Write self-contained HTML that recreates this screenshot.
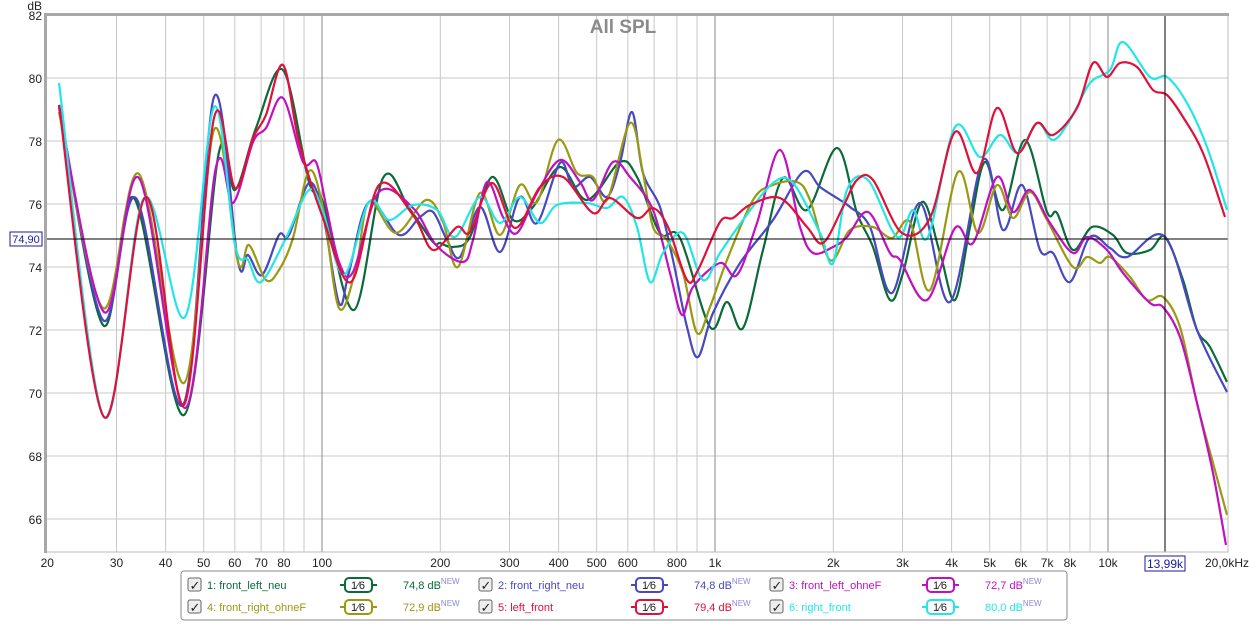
<!DOCTYPE html>
<html><head><meta charset="utf-8"><style>
body{margin:0;background:#fff;width:1249px;height:622px;overflow:hidden;font-family:"Liberation Sans",sans-serif}
svg text{font-family:"Liberation Sans",sans-serif}
</style></head><body>
<svg id="s" width="1249" height="622" xmlns="http://www.w3.org/2000/svg">
<rect x="0" y="0" width="1249" height="622" fill="#fff"/>
<g id="grid"></g>
<text x="623" y="33" text-anchor="middle" font-size="19" font-weight="bold" fill="#8a8a8a">All SPL</text>
<g id="curves" fill="none" stroke-width="2.2" stroke-linejoin="round"></g>
<line x1="46" y1="239" x2="1228" y2="239" stroke="#000" stroke-width="1"/>
<line x1="1165" y1="15" x2="1165" y2="552" stroke="#000" stroke-width="1"/>
<rect x="46" y="15" width="1182" height="537" fill="none" stroke="#bbb" stroke-width="1"/>
<path d="M45.5 553 V14.5 H1229" fill="none" stroke="#a8a8a8" stroke-width="3"/>
<rect x="10" y="232" width="32" height="14" fill="#fff" stroke="#1a1aa0"/>
<text x="26" y="243" text-anchor="middle" font-size="11" fill="#1a1aa0">74,90</text>
<rect x="1145" y="556" width="40" height="15" fill="#fff" stroke="#1a1aa0"/>
<text x="1165" y="568" text-anchor="middle" font-size="12" fill="#1a1aa0">13,99k</text>
<g id="labels" font-size="12" fill="#222"></g>
<rect x="181" y="571" width="886" height="49" rx="3" fill="#fff" stroke="#888"/>
<g id="legend" font-size="11"></g>
</svg>
<script>
const NS="http://www.w3.org/2000/svg";
function el(t,a,p,txt){const e=document.createElementNS(NS,t);for(const k in a)e.setAttribute(k,a[k]);if(txt!==undefined)e.textContent=txt;p.appendChild(e);return e;}
const g=document.getElementById('grid'),lb=document.getElementById('labels');
const fx=f=>322+(Math.log10(f)-2)*393;
// horizontal grid
for(let d=82;d>=66;d-=2){const y=15+(82-d)*31.5;el('line',{x1:46,x2:1228,y1:y,y2:y,stroke:'#c8c8c8'},g);el('text',{x:42,y:y+5,'text-anchor':'end'},lb,d);}
el('text',{x:42,y:10,'text-anchor':'end'},lb,'dB');
const fs=[30,40,50,60,70,80,90,100,200,300,400,500,600,700,800,900,1000,2000,3000,4000,5000,6000,7000,8000,9000,10000];
fs.forEach(f=>{const x=fx(f);const dark=(f==100||f==1000||f==10000);el('line',{x1:x,x2:x,y1:15,y2:552,stroke:dark?'#888':'#c8c8c8'},g);});
const lab=[[20,'20'],[30,'30'],[40,'40'],[50,'50'],[60,'60'],[70,'70'],[80,'80'],[100,'100'],[200,'200'],[300,'300'],[400,'400'],[500,'500'],[600,'600'],[800,'800'],[1000,'1k'],[2000,'2k'],[3000,'3k'],[4000,'4k'],[5000,'5k'],[6000,'6k'],[7000,'7k'],[8000,'8k'],[10000,'10k']];
lab.forEach(([f,t])=>el('text',{x:fx(f),y:567,'text-anchor':'middle'},lb,t));
el('text',{x:1227,y:567,'text-anchor':'middle'},lb,'20,0kHz');
function path(pts){let d='M'+pts[0][0]+' '+pts[0][1];for(let i=0;i<pts.length-1;i++){const p0=pts[Math.max(0,i-1)],p1=pts[i],p2=pts[i+1],p3=pts[Math.min(pts.length-1,i+2)];const c1=[p1[0]+(p2[0]-p0[0])/6,p1[1]+(p2[1]-p0[1])/6],c2=[p2[0]-(p3[0]-p1[0])/6,p2[1]-(p3[1]-p1[1])/6];d+=` C${c1[0].toFixed(1)} ${c1[1].toFixed(1)} ${c2[0].toFixed(1)} ${c2[1].toFixed(1)} ${p2[0]} ${p2[1]}`;}return d;}
const S={
green:[[59,105],[103,325],[134,198],[184,415],[219,152],[235,190],[256,128],[283,70],[309,182],[323,202],[354,310],[383,178],[409,208],[433,242],[440,243],[453,247],[470,237],[492,177],[513,220],[533,207],[560,167],[587,200],[620,162],[637,177],[660,233],[680,238],[710,327],[727,302],[743,328],[763,250],[783,178],[807,210],[837,148],[857,213],[873,247],[890,300],[903,273],[922,202],[940,253],[955,300],[970,227],[985,162],[1003,210],[1025,140],[1047,212],[1057,213],[1073,250],[1092,227],[1113,235],[1127,253],[1150,250],[1165,237],[1183,280],[1197,330],[1210,347],[1227,382]],
blue:[[59,105],[103,320],[136,198],[183,405],[214,97],[238,262],[248,255],[262,275],[279,235],[289,235],[309,183],[323,215],[339,303],[349,272],[369,202],[399,235],[420,217],[433,212],[447,240],[460,257],[480,207],[500,252],[520,197],[537,223],[560,163],[573,187],[590,177],[607,197],[620,163],[632,112],[643,173],[660,207],[673,260],[687,327],[698,357],[713,313],[740,263],[773,220],[803,172],[820,187],[840,200],[850,207],[870,227],[892,293],[920,203],[950,302],[983,160],[1003,230],[1022,185],[1040,250],[1053,253],[1070,282],[1090,237],[1110,248],[1127,257],[1165,237],[1197,330],[1227,392]],
olive:[[59,112],[103,308],[139,174],[184,383],[214,130],[238,262],[249,245],[266,280],[279,270],[293,238],[309,171],[323,208],[339,308],[356,268],[369,202],[396,233],[426,200],[443,222],[458,267],[480,193],[500,235],[520,185],[537,202],[558,140],[577,173],[593,177],[607,200],[630,123],[643,173],[653,227],[667,240],[683,273],[697,333],[710,307],[727,260],[753,200],[773,185],[797,182],[810,200],[830,260],[850,230],[873,227],[892,238],[910,222],[930,290],[958,172],[978,233],[997,185],[1013,218],[1030,192],[1047,220],[1073,267],[1087,257],[1100,263],[1110,257],[1130,277],[1147,300],[1163,297],[1180,327],[1197,403],[1213,463],[1227,515]],
magenta:[[59,108],[104,312],[139,178],[185,408],[216,167],[233,203],[253,142],[266,128],[283,98],[303,162],[316,162],[326,205],[339,262],[353,272],[379,192],[413,208],[436,245],[463,262],[473,240],[487,182],[503,217],[517,233],[537,193],[560,160],[580,182],[593,200],[613,162],[630,177],[653,210],[670,273],[682,315],[693,287],[720,263],[737,275],[757,223],[780,150],[800,227],[813,253],[833,247],[847,237],[868,212],[890,253],[900,260],[927,300],[955,228],[973,243],[997,177],[1013,212],[1030,190],[1050,223],[1073,253],[1087,237],[1107,250],[1123,273],[1150,303],[1163,307],[1180,337],[1197,403],[1213,473],[1226,545]],
cyan:[[59,83],[104,417],[144,198],[185,317],[214,107],[235,245],[248,260],[261,282],[286,238],[309,190],[323,212],[344,275],[369,202],[389,220],[413,205],[437,210],[455,237],[480,197],[500,223],[520,197],[540,223],[557,205],[587,203],[607,208],[623,197],[637,227],[650,282],[663,253],[683,233],[703,280],[720,253],[743,220],[773,183],[793,183],[820,233],[833,263],[847,190],[868,180],[897,237],[913,210],[928,237],[955,127],[980,157],[1000,135],[1018,153],[1037,123],[1053,140],[1070,120],[1090,83],[1110,70],[1123,42],[1150,77],[1167,77],[1187,103],[1207,147],[1227,210]],
red:[[59,105],[104,417],[146,197],[184,405],[214,118],[235,188],[253,138],[266,115],[283,65],[299,142],[323,218],[351,282],[379,185],[413,215],[433,250],[457,227],[470,232],[492,183],[515,228],[540,187],[563,177],[593,213],[610,198],[637,218],[653,208],[668,227],[687,280],[698,270],[720,222],[733,218],[750,205],[780,198],[807,227],[823,243],[843,207],[857,180],[873,180],[902,233],[930,218],[955,132],[977,173],[997,108],[1017,153],[1037,123],[1053,135],[1077,108],[1093,63],[1107,77],[1120,63],[1137,67],[1153,90],[1167,95],[1183,117],[1203,153],[1225,217]]};
const C={green:'#0a6a3a',blue:'#4848c0',olive:'#9a9a12',magenta:'#c010c0',cyan:'#22e6e6',red:'#e0103a'};
const cg=document.getElementById('curves');
['green','blue','olive','magenta','cyan','red'].forEach(k=>el('path',{d:path(S[k]),stroke:C[k]},cg));
const lg=document.getElementById('legend');
const items=[['1: front_left_neu','74,8',C.green],['2: front_right_neu','74,8',C.blue],['3: front_left_ohneF','72,7',C.magenta],['4: front_right_ohneF','72,9',C.olive],['5: left_front','79,4',C.red],['6: right_front','80,0',C.cyan]];
items.forEach((it,i)=>{const cx=188+(i%3)*291,cy=i<3?585:607;
el('rect',{x:cx,y:cy-7,width:13,height:13,rx:2,fill:'#eee',stroke:'#666'},lg);
el('text',{x:cx+1.5,y:cy+5,'font-size':13,fill:'#222'},lg,'✓');
el('text',{x:cx+19,y:cy+4,fill:it[2]},lg,it[0]);
el('line',{x1:cx+152,x2:cx+189,y1:cy,y2:cy,stroke:it[2],'stroke-width':2},lg);
el('rect',{x:cx+157,y:cy-7,width:27,height:14,rx:4,fill:'#fff',stroke:it[2],'stroke-width':2},lg);
el('text',{x:cx+170,y:cy+4,'text-anchor':'middle',fill:'#222','font-size':11},lg,'1⁄6');
const t=el('text',{x:cx+215,y:cy+4,fill:it[2]},lg,it[1]+' dB');
el('tspan',{dy:-5,'font-size':8,fill:'#8888dd'},t,'NEW');
});
</script>
</body></html>
